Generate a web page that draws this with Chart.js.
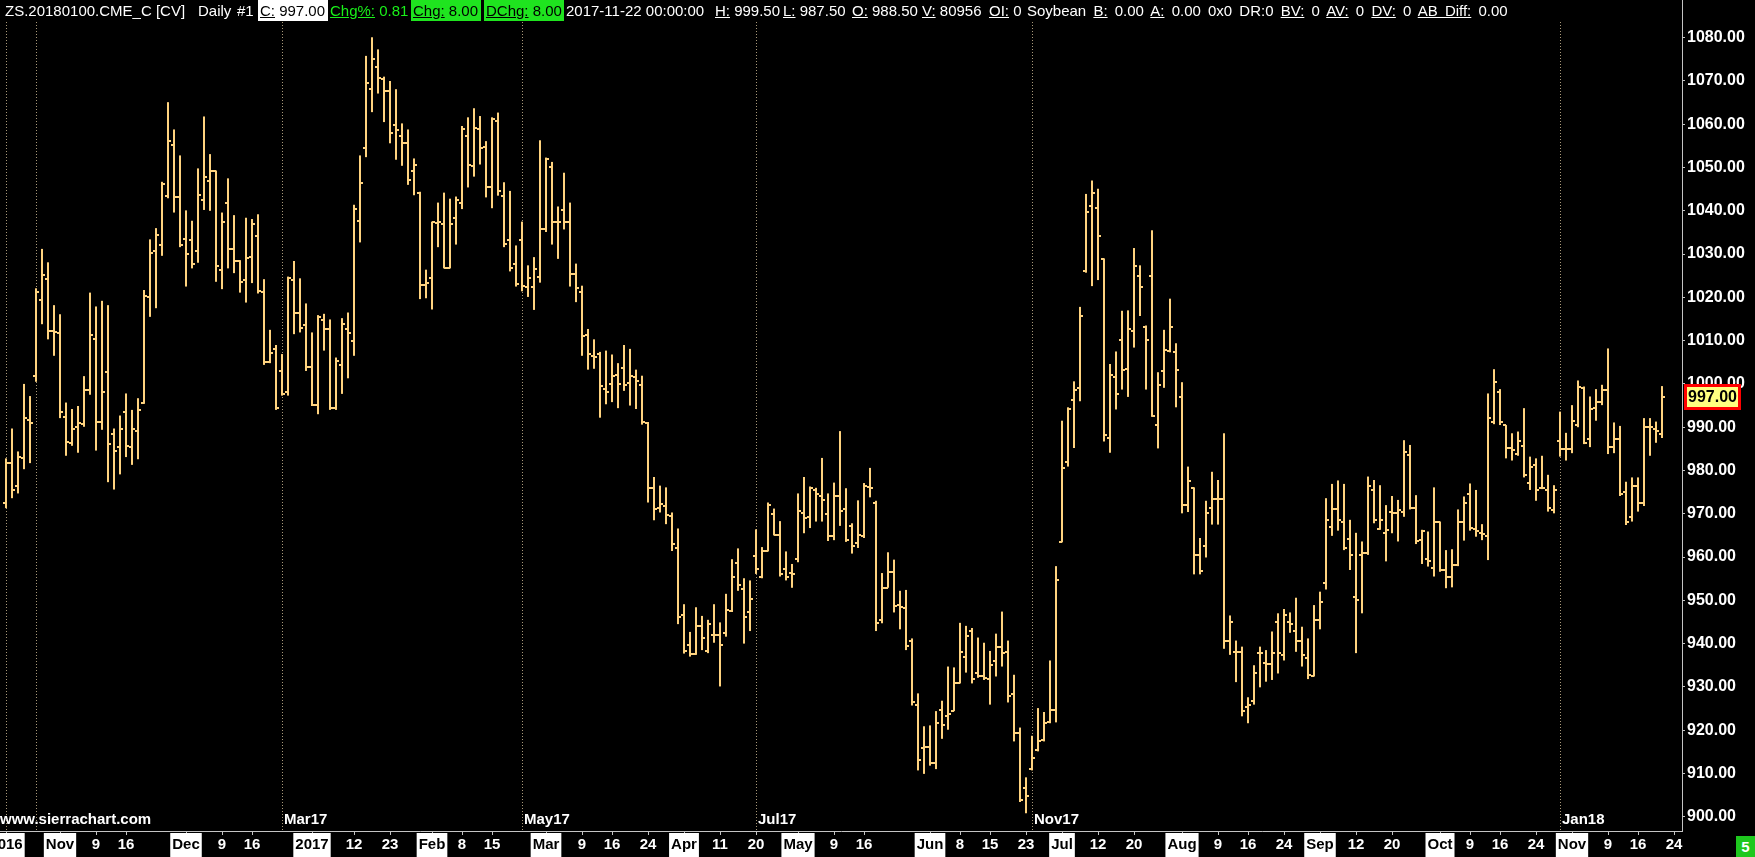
<!DOCTYPE html>
<html>
<head>
<meta charset="utf-8">
<title>ZS.20180100.CME_C [CV] Daily</title>
<script src="https://cdn.jsdelivr.net/npm/chart.js@4.4.1/dist/chart.umd.min.js"></script>
<style>
    html, body { margin: 0; padding: 0; background: #000; overflow: hidden; }
    #wrap { position: relative; width: 1755px; height: 857px; }
    #summaryChart { position: absolute; left: 0; top: 0; }
    #header { position: absolute; left: 0; top: 0; width: 1682px; height: 22px; color: #fff;
              font: 15px "Liberation Sans", Arial, sans-serif; }
    #header span { position: absolute; top: 0; height: 21px; line-height: 22px; white-space: nowrap; }
    #header .boxWhite { background: #fff; color: #000; padding-left: 2px; }
    #header .boxGreen { background: #1fe41f; color: #000; padding-left: 2px; }
    #header .green { color: #19f019; }
    #header .tail { word-spacing: 3px; }
    #pageNo { position: absolute; right: 0; bottom: 0; width: 19px; height: 21px; background: #1ec81e; color: #fff;
              font: bold 15px "Liberation Sans", Arial, sans-serif; text-align: center; line-height: 21px; }
</style>
</head>
<body>
<div id="wrap">
    <canvas id="summaryChart" width="1755" height="857"></canvas>
    <div id="header">
        <span style="left:5px">ZS.20180100.CME_C [CV]</span>
        <span style="left:198px">Daily</span>
        <span style="left:237px">#1</span>
        <span class="boxWhite" style="left:258px;width:68px"><u>C:</u> 997.00</span>
        <span class="green" style="left:330px"><u>Chg%:</u> 0.81</span>
        <span class="boxGreen" style="left:411px;width:68px"><u>Chg:</u> 8.00</span>
        <span class="boxGreen" style="left:484px;width:78px"><u>DChg:</u> 8.00</span>
        <span style="left:566px">2017-11-22 00:00:00</span>
        <span style="left:715px"><u>H:</u> 999.50</span>
        <span style="left:783px"><u>L:</u> 987.50</span>
        <span style="left:852px"><u>O:</u> 988.50</span>
        <span style="left:922px"><u>V:</u> 80956</span>
        <span style="left:989px"><u>OI:</u> 0</span>
        <span class="tail" style="left:1027px">Soybean <u>B:</u> 0.00 <u>A:</u> 0.00 0x0 DR:0 <u>BV:</u> 0 <u>AV:</u> 0 <u>DV:</u> 0 <u>AB Diff:</u> 0.00</span>
    </div>
    <div id="pageNo">5</div>
</div>
<script>
// daily bars, Oct 2016 .. 2017-11-22 (continuous soybean contract)
var openPrices = [
    972.4, 981.7, 976.4, 983.0, 991.7, 1001.8, 1019.4, 1024.2, 1012.2, 1011.8,
    992.4, 986.3, 990.0, 990.7, 998.6, 1010.4, 991.1, 1002.8, 988.4, 985.5,
    993.4, 985.4, 989.1, 995.5, 1020.2, 1030.6, 1032.1, 1043.5, 1055.2, 1043.3,
    1033.6, 1033.3, 1030.8, 1042.6, 1047.0, 1049.2, 1026.3, 1041.9, 1031.2, 1028.3,
    1024.0, 1029.3, 1034.2, 1021.3, 1005.1, 1008.0, 1003.0, 998.2, 1023.9, 1016.5,
    1013.6, 1004.0, 995.1, 1014.8, 1012.7, 994.4, 1004.4, 1012.7, 1010.0, 1037.6,
    1054.4, 1068.1, 1073.3, 1070.4, 1067.7, 1059.8, 1057.3, 1055.6, 1049.2, 1044.1,
    1022.9, 1024.5, 1037.1, 1036.9, 1026.7, 1038.4, 1041.9, 1057.2, 1050.4, 1059.0,
    1054.8, 1045.4, 1060.7, 1043.5, 1033.3, 1027.6, 1033.2, 1022.3, 1022.3, 1024.8,
    1035.7, 1050.1, 1037.3, 1040.1, 1037.5, 1025.4, 1021.2, 1011.2, 1006.5, 1006.8,
    998.8, 1000.0, 1002.1, 1003.7, 1000.2, 1001.5, 999.7, 990.9, 975.9, 971.4,
    971.9, 969.4, 962.0, 946.7, 939.6, 937.6, 944.0, 938.3, 942.0, 942.0,
    942.5, 947.6, 958.6, 952.6, 947.3, 960.2, 955.5, 961.4, 969.9, 965.0,
    957.3, 956.4, 959.5, 970.1, 969.2, 975.4, 974.1, 969.9, 964.8, 974.1,
    971.1, 967.2, 963.2, 964.9, 976.1, 972.6, 945.5, 952.9, 956.5, 948.9,
    948.2, 940.7, 925.9, 915.8, 916.1, 912.3, 924.7, 923.3, 924.4, 930.8,
    936.9, 942.8, 933.2, 932.6, 931.8, 935.9, 939.3, 938.1, 928.3, 919.4,
    906.7, 911.0, 915.5, 917.7, 921.8, 924.7, 963.4, 981.9, 996.3, 999.1,
    1026.0, 1041.0, 1040.6, 1028.8, 987.6, 1001.7, 1010.2, 1003.4, 1012.3, 1025.0,
    1013.2, 1025.0, 990.5, 1003.0, 1007.5, 1007.3, 996.9, 972.0, 975.9, 960.5,
    962.5, 971.4, 973.3, 973.3, 940.7, 938.1, 938.1, 925.4, 926.8, 937.8,
    935.6, 935.3, 945.1, 937.4, 945.1, 942.8, 940.5, 936.6, 932.5, 945.5,
    953.9, 967.0, 971.0, 968.2, 964.1, 950.7, 960.5, 961.0, 975.6, 966.4,
    965.6, 970.3, 970.1, 970.5, 983.6, 971.3, 964.0, 959.5, 957.4, 968.0,
    956.9, 955.3, 958.2, 968.2, 974.6, 966.4, 965.6, 964.9, 991.3, 998.2,
    990.5, 985.1, 983.8, 985.7, 977.2, 981.3, 975.9, 975.5, 970.9, 986.7,
    984.9, 984.9, 990.5, 999.0, 987.2, 994.4, 995.9, 998.6, 985.5, 987.2,
    975.1, 969.3, 976.3, 972.6, 990.0, 989.5, 988.5
];
var highPrices = [
    982.8, 989.7, 984.4, 1000.0, 997.2, 1022.1, 1031.2, 1028.1, 1018.2, 1016.1,
    995.7, 994.2, 994.9, 1001.8, 1021.1, 1017.9, 1019.2, 1018.2, 989.7, 992.7,
    997.8, 994.0, 996.7, 1021.7, 1033.4, 1036.0, 1046.7, 1065.1, 1058.8, 1052.8,
    1040.1, 1037.7, 1049.8, 1061.8, 1053.1, 1049.3, 1039.6, 1047.5, 1039.0, 1028.6,
    1038.4, 1038.1, 1039.2, 1024.2, 1012.5, 1009.0, 1006.9, 1024.8, 1028.4, 1024.4,
    1018.6, 1011.9, 1015.9, 1016.2, 1014.9, 1006.1, 1015.2, 1016.5, 1041.4, 1052.8,
    1075.8, 1080.1, 1077.3, 1071.0, 1070.0, 1068.1, 1060.2, 1058.8, 1052.1, 1044.4,
    1026.4, 1037.5, 1041.9, 1044.2, 1042.8, 1043.3, 1059.6, 1061.6, 1063.7, 1061.9,
    1056.1, 1061.6, 1062.7, 1046.6, 1044.6, 1032.0, 1037.5, 1027.4, 1029.3, 1056.3,
    1052.3, 1051.3, 1041.0, 1048.8, 1041.9, 1027.8, 1022.7, 1012.7, 1010.3, 1007.4,
    1007.7, 1006.8, 1004.8, 1009.0, 1008.1, 1003.3, 1001.9, 991.2, 978.5, 976.5,
    976.1, 970.3, 966.6, 949.1, 942.7, 948.4, 946.4, 945.5, 949.1, 944.9,
    951.5, 959.5, 962.0, 955.1, 954.6, 966.4, 962.3, 972.6, 971.2, 968.3,
    961.3, 958.4, 974.7, 978.5, 976.3, 976.0, 982.9, 974.7, 977.2, 989.1,
    975.9, 967.8, 973.1, 977.1, 980.6, 973.0, 956.3, 961.1, 959.4, 952.2,
    952.4, 941.2, 928.5, 920.9, 921.1, 924.4, 926.8, 934.7, 934.5, 944.8,
    944.1, 943.6, 941.4, 940.2, 938.3, 942.3, 947.4, 940.7, 932.8, 920.6,
    909.1, 918.7, 925.1, 924.2, 936.1, 957.9, 991.5, 994.6, 1000.6, 1017.8,
    1043.9, 1047.0, 1045.1, 1029.0, 1004.6, 1007.5, 1016.9, 1017.0, 1031.4, 1027.4,
    1013.5, 1035.5, 1002.7, 1012.5, 1019.7, 1009.4, 1000.4, 980.9, 976.1, 964.4,
    973.0, 979.7, 977.8, 988.6, 946.5, 940.7, 939.3, 927.6, 935.0, 939.3,
    938.5, 942.8, 947.0, 948.0, 947.2, 950.6, 943.9, 941.2, 948.9, 952.0,
    973.6, 976.9, 977.7, 976.9, 968.6, 965.6, 963.6, 978.6, 977.8, 976.6,
    972.0, 974.1, 973.2, 987.0, 985.9, 974.3, 966.3, 965.9, 976.1, 968.2,
    961.6, 961.8, 971.0, 974.0, 977.0, 975.5, 967.6, 997.8, 1003.4, 998.8,
    990.5, 988.6, 989.0, 994.4, 983.2, 982.8, 983.4, 979.0, 976.6, 993.6,
    988.7, 995.1, 1000.8, 999.4, 997.1, 998.8, 999.8, 1008.2, 991.1, 990.3,
    977.4, 978.4, 978.4, 992.1, 992.1, 991.3, 999.5
];
var lowPrices = [
    971.3, 973.6, 974.7, 980.3, 981.7, 1000.5, 1013.8, 1010.3, 1006.5, 992.1,
    983.4, 985.7, 984.1, 990.1, 997.5, 984.6, 989.4, 977.3, 975.6, 979.1,
    983.1, 981.3, 982.6, 995.4, 1015.5, 1017.5, 1029.6, 1042.9, 1039.6, 1031.6,
    1022.5, 1026.7, 1028.0, 1040.2, 1040.0, 1023.6, 1021.9, 1026.7, 1025.6, 1021.1,
    1018.8, 1023.3, 1020.9, 1004.4, 1004.8, 994.0, 997.3, 997.3, 1011.5, 1011.9,
    1003.0, 994.9, 993.0, 1007.7, 994.0, 994.0, 997.7, 1001.3, 1006.5, 1032.7,
    1052.4, 1062.8, 1067.1, 1060.5, 1055.6, 1051.8, 1050.4, 1046.0, 1043.6, 1019.6,
    1019.8, 1017.2, 1031.6, 1026.7, 1026.7, 1032.2, 1040.4, 1045.4, 1047.9, 1050.7,
    1043.1, 1040.6, 1043.5, 1031.6, 1026.0, 1022.5, 1021.4, 1020.1, 1017.1, 1023.4,
    1035.1, 1032.2, 1028.9, 1035.7, 1022.5, 1018.9, 1006.5, 1003.3, 1003.5, 992.2,
    995.3, 995.8, 994.4, 998.4, 995.0, 994.2, 990.6, 972.6, 968.5, 970.3,
    967.6, 961.4, 944.5, 937.7, 937.0, 937.4, 938.5, 937.8, 940.2, 930.1,
    941.6, 947.3, 952.2, 940.0, 942.9, 956.1, 955.1, 961.3, 965.0, 955.5,
    954.6, 952.9, 958.8, 965.5, 966.7, 968.2, 968.2, 963.7, 963.9, 967.2,
    963.5, 960.8, 962.1, 964.4, 973.8, 942.9, 944.7, 952.9, 947.2, 943.3,
    938.5, 925.7, 910.7, 909.9, 911.8, 911.0, 918.0, 920.1, 924.4, 930.8,
    933.3, 930.8, 932.1, 931.6, 925.9, 932.4, 934.7, 926.4, 917.4, 903.4,
    900.8, 910.7, 915.1, 917.4, 921.6, 921.8, 963.4, 980.9, 985.2, 996.0,
    1025.7, 1022.6, 1024.0, 986.7, 984.1, 994.1, 998.7, 997.0, 1008.4, 1015.7,
    998.7, 992.4, 985.1, 999.1, 1007.3, 994.6, 970.1, 970.4, 956.0, 956.0,
    959.9, 967.5, 967.5, 938.8, 937.4, 931.1, 923.2, 921.6, 925.9, 929.9,
    931.2, 931.6, 933.1, 936.1, 942.5, 938.1, 934.7, 931.8, 932.4, 943.3,
    952.5, 964.9, 966.1, 961.6, 957.0, 937.8, 947.0, 960.5, 967.8, 966.3,
    959.0, 965.5, 963.6, 969.3, 971.0, 963.0, 958.4, 957.8, 955.5, 956.6,
    952.8, 953.0, 957.9, 963.8, 966.1, 964.7, 963.9, 959.3, 990.7, 990.5,
    982.8, 982.3, 983.4, 978.4, 975.5, 973.0, 975.7, 970.5, 970.1, 983.2,
    982.3, 984.0, 990.0, 986.1, 985.4, 991.5, 995.1, 983.8, 984.0, 974.1,
    967.4, 968.2, 970.5, 971.8, 983.4, 986.4, 987.5
];
var closePrices = [
    981.7, 975.6, 983.2, 992.2, 990.9, 1021.2, 1025.2, 1012.2, 1012.0, 993.6,
    986.5, 989.6, 990.9, 998.6, 1011.3, 991.1, 998.1, 986.1, 984.5, 989.6,
    985.7, 989.6, 994.0, 1020.4, 1030.3, 1034.4, 1046.2, 1056.1, 1043.1, 1032.1,
    1030.0, 1027.7, 1043.6, 1047.8, 1049.2, 1027.3, 1037.5, 1031.2, 1028.3, 1023.6,
    1029.0, 1037.0, 1021.5, 1005.1, 1007.1, 994.4, 997.7, 1024.4, 1016.5, 1013.0,
    1004.0, 995.1, 1015.5, 1012.7, 994.4, 1005.3, 1013.9, 1011.7, 1040.4, 1046.4,
    1069.6, 1075.0, 1070.6, 1067.7, 1057.9, 1058.7, 1055.6, 1047.1, 1050.5, 1022.9,
    1023.3, 1037.3, 1037.5, 1026.9, 1036.9, 1042.4, 1059.0, 1050.6, 1059.2, 1054.5,
    1045.4, 1061.2, 1044.6, 1032.4, 1026.7, 1023.0, 1022.7, 1024.5, 1026.5, 1035.7,
    1051.9, 1037.3, 1037.5, 1037.3, 1025.4, 1022.1, 1011.0, 1006.8, 1006.2, 999.5,
    998.2, 1001.9, 1000.0, 999.7, 1001.8, 1000.6, 991.1, 975.9, 971.0, 972.3,
    969.7, 963.0, 946.2, 938.3, 937.6, 944.0, 941.4, 944.6, 942.0, 939.6,
    947.7, 955.5, 953.5, 946.2, 950.2, 957.3, 961.4, 972.1, 965.0, 956.0,
    955.5, 956.1, 970.6, 969.0, 975.9, 974.5, 973.2, 964.8, 974.1, 970.6,
    963.9, 962.5, 965.1, 976.4, 975.9, 944.8, 952.9, 956.5, 948.7, 948.4,
    939.5, 926.4, 913.0, 916.1, 912.5, 921.6, 921.3, 923.8, 930.8, 938.0,
    941.7, 931.8, 932.6, 932.1, 935.0, 939.3, 937.8, 928.0, 919.4, 903.8,
    904.8, 913.6, 917.4, 921.6, 924.7, 954.8, 980.6, 994.1, 998.5, 1015.7,
    1039.7, 1044.2, 1034.1, 988.1, 1002.0, 997.7, 1003.3, 1012.8, 1027.2, 1022.3,
    1010.2, 992.7, 999.8, 1007.8, 1013.2, 1003.3, 972.0, 977.6, 960.5, 956.7,
    970.1, 973.3, 973.3, 940.7, 945.0, 938.1, 924.4, 925.9, 933.3, 937.8,
    935.3, 937.8, 937.8, 946.6, 944.5, 940.5, 937.4, 932.8, 945.5, 949.7,
    968.6, 971.0, 968.6, 962.0, 960.5, 950.1, 960.9, 976.4, 968.6, 968.6,
    966.3, 970.1, 970.9, 984.3, 971.3, 963.6, 966.1, 959.2, 968.2, 957.0,
    955.5, 958.2, 968.2, 972.4, 966.6, 966.1, 965.3, 992.1, 1000.5, 991.3,
    985.1, 984.7, 986.7, 979.0, 980.7, 975.5, 975.9, 971.3, 975.5, 984.9,
    984.9, 991.5, 999.4, 986.4, 994.1, 995.9, 998.6, 985.5, 987.2, 974.6,
    968.0, 976.3, 972.6, 990.0, 990.1, 989.2, 997.0
];

// date scale along the bottom: label text and the bar it sits under
var tickLabels = ['2016', 'Nov', '9', '16', 'Dec', '9', '16',
    '2017', '12', '23', 'Feb', '8', '15',
    'Mar', '9', '16', '24', 'Apr', '11', '20',
    'May', '9', '16', 'Jun', '8', '15', '23',
    'Jul', '12', '20', 'Aug', '9', '16', '24',
    'Sep', '12', '20', 'Oct', '9', '16', '24',
    'Nov', '9', '16', '24'];
var tickBars = [0, 9, 15, 20, 30, 36, 41,
    51, 58, 64, 71, 76, 81,
    90, 96, 101, 107, 113, 119, 125,
    132, 138, 143, 154, 159, 164, 170,
    176, 182, 188, 196, 202, 207, 213,
    219, 225, 231, 239, 244, 249, 255,
    261, 267, 272, 278];

// contract roll markers (dotted lines)
var rollLabels = ['', '', 'Mar17', 'May17', 'Jul17', 'Nov17', 'Jan18'];
var rollBars = [0, 5, 46, 86, 125, 171, 259];

// price scale on the right
var priceTicks = [900, 910, 920, 930, 940, 950, 960, 970, 980, 990, 1000,
    1010, 1020, 1030, 1040, 1050, 1060, 1070, 1080];

var BAR_COLOR = '#ffd37f';
var AXIS_COLOR = '#c4c4c4';
var FONT = '"Liberation Sans", Arial, sans-serif';

// small canvas used as point style for the open (left) / close (right) ticks
function makeTickImage(side) {
    var c = document.createElement('canvas');
    c.width = 6;
    c.height = 2;
    var g = c.getContext('2d');
    g.fillStyle = BAR_COLOR;
    g.fillRect(side === 'left' ? 0 : 3, 0, 3, 2);
    return c;
}

var sierraOverlay = {
    id: 'sierraOverlay',
    beforeDatasetsDraw: function (chart) {
        var ctx = chart.ctx;
        var xs = chart.scales.x;
        ctx.save();
        ctx.strokeStyle = '#a89878';
        ctx.lineWidth = 1;
        ctx.setLineDash([1, 2]);
        rollBars.forEach(function (b) {
            var px = Math.round(xs.getPixelForValue(b)) + 0.5;
            ctx.beginPath();
            ctx.moveTo(px, 22);
            ctx.lineTo(px, chart.chartArea.bottom);
            ctx.stroke();
        });
        ctx.restore();
    },
    afterDatasetsDraw: function (chart) {
        var ctx = chart.ctx;
        var xs = chart.scales.x;
        var ys = chart.scales.y;
        var area = chart.chartArea;
        ctx.save();
        ctx.font = 'bold 15px ' + FONT;
        ctx.fillStyle = '#fff';
        ctx.textBaseline = 'middle';
        rollLabels.forEach(function (label, i) {
            if (label) {
                ctx.fillText(label, Math.round(xs.getPixelForValue(rollBars[i])) + 2, 820);
            }
        });
        ctx.fillText('www.sierrachart.com', 0, 820);

        // last price marker on the price scale
        var last = closePrices[closePrices.length - 1];
        var py = Math.round(ys.getPixelForValue(last));
        ctx.fillStyle = '#ff0000';
        ctx.fillRect(area.right + 2, py - 13, 57, 26);
        ctx.fillStyle = '#ffff80';
        ctx.fillRect(area.right + 5, py - 10, 51, 20);
        ctx.fillStyle = '#000';
        ctx.font = 'bold 16px ' + FONT;
        ctx.fillText(last.toFixed(2), area.right + 6, py + 1);
        ctx.restore();
    }
};

var ctx = document.getElementById('summaryChart').getContext('2d');

window.myBarChart = new Chart(ctx, {
    type: 'bar',
    data: {
        datasets: [
            {
                type: 'bar',
                data: highPrices.map(function (h, i) { return { x: i, y: [lowPrices[i], h] }; }),
                backgroundColor: BAR_COLOR,
                barThickness: 2,
                inflateAmount: 0,
                borderWidth: 0
            },
            {
                type: 'scatter',
                data: openPrices.map(function (o, i) { return { x: i, y: o }; }),
                pointStyle: makeTickImage('left'),
                pointRadius: 3,
                pointHoverRadius: 3
            },
            {
                type: 'scatter',
                data: closePrices.map(function (c, i) { return { x: i, y: c }; }),
                pointStyle: makeTickImage('right'),
                pointRadius: 3,
                pointHoverRadius: 3
            }
        ]
    },
    options: {
        responsive: false,
        devicePixelRatio: 1,
        animation: false,
        events: [],
        layout: { padding: 0, autoPadding: false },
        plugins: {
            legend: { display: false },
            tooltip: { enabled: false }
        },
        scales: {
            x: {
                type: 'linear',
                offset: false,
                min: -1,
                max: 279.333,
                afterFit: function (scale) {
                    scale.height = 26;
                    scale.paddingLeft = 0;
                    scale.paddingRight = 0;
                },
                afterBuildTicks: function (scale) {
                    scale.ticks = tickBars.map(function (b) { return { value: b }; });
                },
                ticks: {
                    autoSkip: false,
                    maxRotation: 0,
                    minRotation: 0,
                    padding: 1,
                    font: { family: FONT, size: 15, weight: 'bold' },
                    color: function (c) { return /^\d{1,2}$/.test(tickLabels[c.index]) ? '#fff' : '#000'; },
                    showLabelBackdrop: function (c) { return !/^\d{1,2}$/.test(tickLabels[c.index]); },
                    backdropColor: '#fff',
                    backdropPadding: { x: 2, y: 3 },
                    callback: function (value, index) { return tickLabels[index]; }
                },
                grid: { offset: false, drawOnChartArea: false, drawTicks: true, tickLength: 4, color: AXIS_COLOR },
                border: { color: AXIS_COLOR, width: 1 }
            },
            y: {
                type: 'linear',
                position: 'right',
                min: 896.70,
                max: 1088.71,
                afterFit: function (scale) {
                    scale.width = 73;
                    scale.paddingTop = 0;
                    scale.paddingBottom = 0;
                },
                afterBuildTicks: function (scale) {
                    scale.ticks = priceTicks.map(function (v) { return { value: v }; });
                },
                ticks: {
                    padding: 2,
                    color: '#fff',
                    font: { family: FONT, size: 16, weight: 'bold' },
                    callback: function (value) { return Number(value).toFixed(2); }
                },
                grid: { drawOnChartArea: false, drawTicks: true, tickLength: 3, color: AXIS_COLOR },
                border: { color: AXIS_COLOR, width: 1 }
            }
        }
    },
    plugins: [sierraOverlay]
});
</script>
</body>
</html>
